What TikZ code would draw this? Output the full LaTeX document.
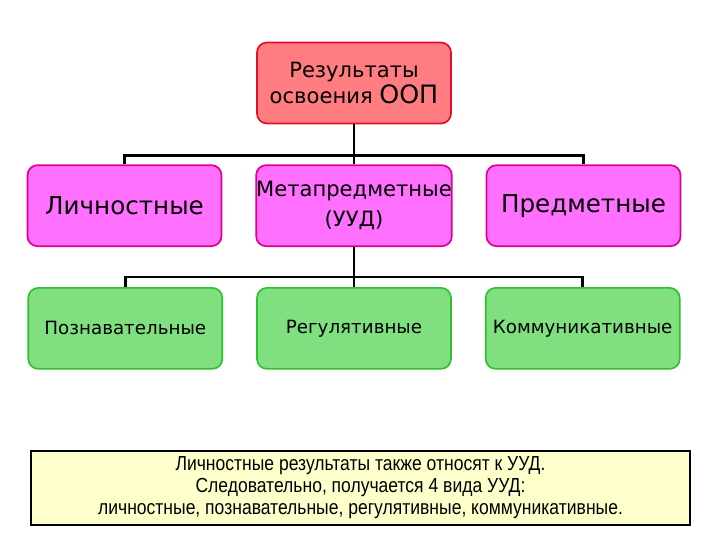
\documentclass[tikz,border=0pt]{standalone}
\usepackage{fontspec}
\setmainfont{DejaVu Sans}
\newfontfamily\notefont[FakeStretch=0.86]{Liberation Sans}
\usetikzlibrary{positioning}
\definecolor{resfill}{HTML}{FF7C80}
\definecolor{resline}{HTML}{E0102A}
\definecolor{kindfill}{HTML}{FF70FF}
\definecolor{kindline}{HTML}{E0008C}
\definecolor{uudfill}{HTML}{80E080}
\definecolor{uudline}{HTML}{30C030}
\definecolor{notefill}{HTML}{FFFFCC}

\begin{document}
\begin{tikzpicture}[
  box/.style={rectangle,rounded corners=0.25cm,line width=1.2pt,minimum width=4.85cm,
    minimum height=2.025cm,align=center,inner sep=0pt},
  resbox/.style={box,draw=resline,fill=resfill,font=\fontsize{15}{19}\selectfont},
  kindbox/.style={box,draw=kindline,fill=kindfill,font=\fontsize{17.5}{21}\selectfont},
  uudbox/.style={box,draw=uudline,fill=uudfill,font=\fontsize{13}{16}\selectfont},
  conn/.style={draw=black,line width=1.8pt}]
\useasboundingbox (0,0) rectangle (18,-13.5);
\node[resbox] (res) at (8.85,-2.075) {Результаты\\освоения {\fontsize{18}{19}\selectfont ООП}};
\node[kindbox,below=1.0cm of res,font=\fontsize{15}{21}\selectfont] (meta) {Метапредметные\\(УУД)};
\node[kindbox,left=0.825cm of meta] (lich) {Личностные};
\node[kindbox,right=0.825cm of meta] (pred) {Предметные};
\node[uudbox,below=1.0cm of meta] (reg) {Регулятивные};
\node[uudbox,left=0.825cm of reg] (poz) {Познавательные};
\node[uudbox,right=0.825cm of reg] (kom) {Коммуникативные};
% ветки
\draw[conn] (lich.north) -- ++(0,0.225) -| (pred.north);
\draw[conn] (res.south) -- (meta.north);
\draw[conn] (poz.north) -- ++(0,0.25) -| (kom.north);
\draw[conn] (meta.south) -- (reg.north);
% вывод
\node[draw=black,line width=0.8pt,fill=notefill,minimum width=16.475cm,minimum height=1.85cm,
  align=center,font=\notefont\fontsize{14.5}{15.6}\selectfont] (note) at (9.0125,-12.2)
  {Личностные результаты также относят к УУД.\\Следовательно, получается 4 вида УУД:\\
   личностные, познавательные, регулятивные, коммуникативные.};
\end{tikzpicture}
\end{document}
